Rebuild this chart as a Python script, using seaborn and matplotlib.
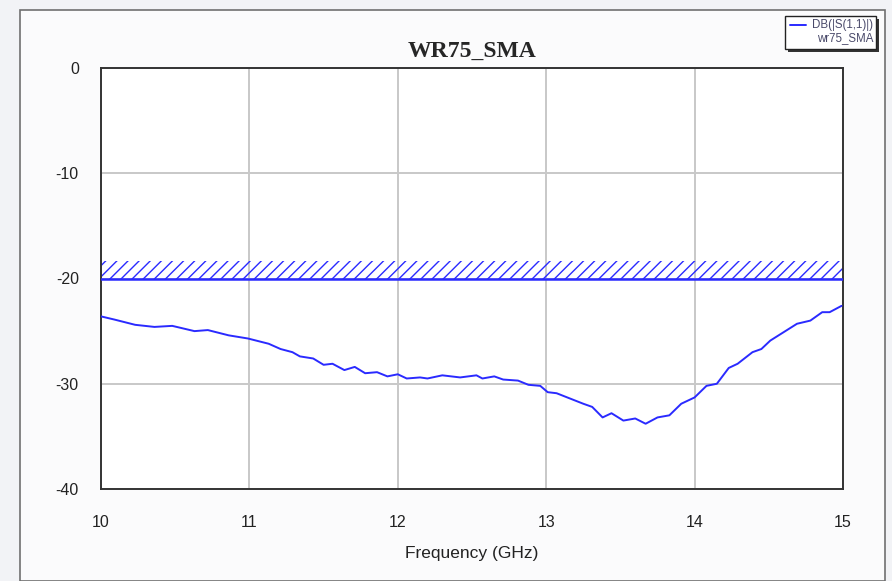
#!/usr/bin/env python3
"""WR75_SMA return loss plot (S11 in dB vs frequency)."""

import matplotlib

matplotlib.use("Agg")
import matplotlib.pyplot as plt
import pandas as pd
import seaborn as sns
from matplotlib.patches import Rectangle

# --- data ---
freq_ghz = [
    10.00, 10.09, 10.23, 10.36, 10.48, 10.63, 10.72, 10.86, 10.99, 11.13,
    11.21, 11.29, 11.34, 11.43, 11.50, 11.56, 11.64, 11.71, 11.78, 11.86,
    11.93, 12.00, 12.06, 12.15, 12.20, 12.30, 12.42, 12.53, 12.57, 12.65,
    12.71, 12.81, 12.88, 12.96, 13.01, 13.07, 13.16, 13.25, 13.31, 13.38,
    13.44, 13.52, 13.60, 13.67, 13.75, 13.83, 13.91, 14.00, 14.08, 14.15,
    14.23, 14.29, 14.39, 14.45, 14.51, 14.60, 14.69, 14.78, 14.86, 14.91,
    14.99,
]
s11_db = [
    -23.6, -23.9, -24.4, -24.6, -24.5, -25.0, -24.9, -25.4, -25.7, -26.2,
    -26.7, -27.0, -27.4, -27.6, -28.2, -28.1, -28.7, -28.4, -29.0, -28.9,
    -29.3, -29.1, -29.5, -29.4, -29.5, -29.2, -29.4, -29.2, -29.5, -29.3,
    -29.6, -29.7, -30.1, -30.2, -30.8, -30.9, -31.4, -31.9, -32.2, -33.2,
    -32.8, -33.5, -33.3, -33.8, -33.2, -33.0, -31.9, -31.3, -30.2, -30.0,
    -28.5, -28.1, -27.0, -26.7, -25.9, -25.1, -24.3, -24.0, -23.2, -23.2,
    -22.6,
]
spec_range = [10, 15]
spec_limit = -20
spec_band_top = -18.3

x_ticks = [10, 11, 12, 13, 14, 15]
x_tick_labels = ["10", "11", "12", "13", "14", "15"]
y_ticks = [0, -10, -20, -30, -40]
y_tick_labels = ["0", "-10", "-20", "-30", "-40"]

BLUE = "#2a2aff"

sns.set_style("white")
plt.rcParams["font.family"] = ["Liberation Sans", "DejaVu Sans"]
plt.rcParams["hatch.linewidth"] = 1.0

fig = plt.figure(figsize=(8.92, 5.81), dpi=100, facecolor="#f2f3f6")
W, H = 892, 581

# outer frame of the plot window
frame = Rectangle((20 / W, 0), (885 - 20) / W, (H - 10) / H,
                  transform=fig.transFigure, facecolor="#fbfbfc",
                  edgecolor="#707070", linewidth=1.2, zorder=-1)
fig.patches.append(frame)

ax = fig.add_axes([101 / W, (H - 489) / H, (843 - 101) / W, (489 - 68) / H])
ax.set_zorder(1)
ax.set_facecolor("white")

df = pd.DataFrame({"freq": freq_ghz, "s11": s11_db})
sns.lineplot(data=df, x="freq", y="s11", ax=ax, color=BLUE, linewidth=1.4,
             zorder=3)

# spec mask: hatched band above -20 dB
ax.fill_between(spec_range, spec_limit, spec_band_top, facecolor="none",
                edgecolor=BLUE, hatch="///", linewidth=0, zorder=2)
ax.plot(spec_range, [spec_limit, spec_limit], color=BLUE, linewidth=1.8,
        zorder=3)

ax.set_xlim(10, 15)
ax.set_ylim(-40, 0)
ax.set_xticks(x_ticks)
ax.set_xticklabels(x_tick_labels)
ax.set_yticks(y_ticks)
ax.set_yticklabels(y_tick_labels)
ax.tick_params(axis="both", length=0, labelsize=11.5, colors="#222222")
ax.tick_params(axis="x", pad=19)
ax.tick_params(axis="y", pad=16)
ax.grid(True, color="#c8c8c8", linewidth=1.4)
ax.set_axisbelow(True)
for side in ax.spines.values():
    side.set_color("#333333")
    side.set_linewidth(1.4)

ax.set_xlabel("Frequency (GHz)", fontsize=12.5, color="#222222", labelpad=11)
ax.set_ylabel("")
ax.set_title("WR75_SMA", fontsize=17, fontweight="bold",
             family=["Liberation Serif", "DejaVu Serif"], pad=8)

# legend box with drop shadow, top right
shadow = Rectangle((788 / W, (H - 52) / H), 91 / W, 33 / H,
                   transform=fig.transFigure, facecolor="#333333",
                   edgecolor="none", zorder=5)
box = Rectangle((785 / W, (H - 49) / H), 91 / W, 33 / H,
                transform=fig.transFigure, facecolor="white",
                edgecolor="#222222", linewidth=1.0, zorder=6)
fig.patches.extend([shadow, box])
fig.lines.append(plt.Line2D([790 / W, 806 / W], [(H - 25) / H, (H - 25) / H],
                            transform=fig.transFigure, color=BLUE,
                            linewidth=1.4, zorder=7))
fig.text(873 / W, (H - 25) / H, "DB(|S(1,1)|)", fontsize=8.3, ha="right",
         va="center", color="#4a4a6a", zorder=7)
fig.text(873 / W, (H - 38) / H, "wr75_SMA", fontsize=8.3, ha="right",
         va="center", color="#4a4a6a", zorder=7)

fig.savefig("out.png", dpi=100, facecolor=fig.get_facecolor())
